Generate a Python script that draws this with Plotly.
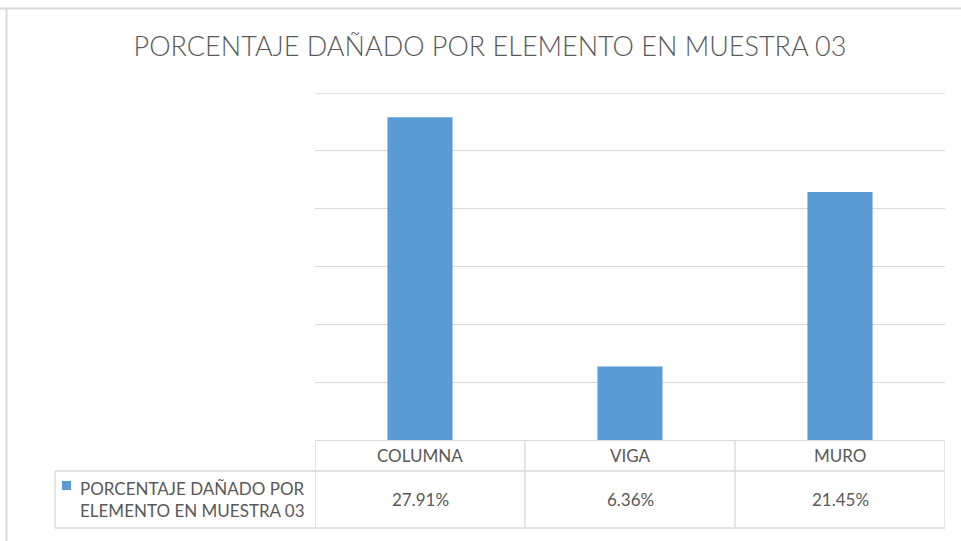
import plotly.graph_objects as go

categories = ["COLUMNA", "VIGA", "MURO"]
values = [27.91, 6.36, 21.45]
series_name = "PORCENTAJE DAÑADO POR ELEMENTO EN MUESTRA 03"
title_text = "PORCENTAJE DAÑADO POR ELEMENTO EN MUESTRA 03"

BAR = "#5B9BD5"
GRID = "#D9D9D9"
TXT = "#595959"
FONT = "Lato"

fig = go.Figure()
fig.add_trace(go.Bar(
    x=list(range(len(categories))), y=values, name=series_name,
    marker=dict(color=BAR, line=dict(width=0)), width=0.31,
    showlegend=False, hoverinfo="skip",
))

H = 347.0  # plot height px
W = 630.0  # plot width px
def py(pix):  # pixel y -> paper y
    return (440 - pix) / H
def px(pix):  # pixel x -> paper x
    return (pix - 315) / W

shapes = []
line = dict(color=GRID, width=1.3)
# outer frame (top and left)
shapes.append(dict(type="line", xref="paper", yref="paper", x0=px(0), x1=px(961), y0=py(8.5), y1=py(8.5), line=dict(color=GRID, width=2)))
shapes.append(dict(type="line", xref="paper", yref="paper", x0=px(6.5), x1=px(6.5), y0=py(8.5), y1=py(541), line=dict(color=GRID, width=2)))
# top gridline
shapes.append(dict(type="line", xref="paper", yref="y", x0=0, x1=1, y0=30, y1=30, line=line, layer="below"))
# data table
n = len(categories)
for b in [i - 0.5 for i in range(n + 1)]:
    shapes.append(dict(type="line", xref="x", yref="paper", x0=b, x1=b, y0=0, y1=py(528), line=line))
shapes.append(dict(type="line", xref="paper", yref="paper", x0=px(55), x1=px(55), y0=py(471), y1=py(528), line=line))
for yy in [471, 528]:
    shapes.append(dict(type="line", xref="paper", yref="paper", x0=px(55), x1=1, y0=py(yy), y1=py(yy), line=line))
# legend key
shapes.append(dict(type="rect", xref="paper", yref="paper", x0=px(62), x1=px(71), y0=py(481), y1=py(490), fillcolor=BAR, line=dict(width=0)))

annotations = []
for i, (c, v) in enumerate(zip(categories, values)):
    annotations.append(dict(x=i, xref="x", y=py(455.5), yref="paper", text=c, showarrow=False,
                            font=dict(family=FONT, size=17, color=TXT), xanchor="center", yanchor="middle"))
    annotations.append(dict(x=i, xref="x", y=py(499.5), yref="paper", text=f"{v:.2f}%", showarrow=False,
                            font=dict(family=FONT, size=17, color=TXT), xanchor="center", yanchor="middle"))
annotations.append(dict(x=px(78), xref="paper", y=py(499.5), yref="paper",
                        text="PORCENTAJE DAÑADO POR<br>ELEMENTO EN MUESTRA 03", showarrow=False, align="left",
                        font=dict(family=FONT, size=17, color=TXT), xanchor="left", yanchor="middle"))

fig.update_layout(
    width=961, height=541,
    margin=dict(l=315, r=16, t=93, b=101),
    paper_bgcolor="white", plot_bgcolor="white",
    title=dict(text=title_text, x=490 / 961, xanchor="center", y=1 - 47 / 541, yanchor="middle",
               font=dict(family=FONT, size=27, color=TXT, weight=300)),
    xaxis=dict(range=[-0.5, n - 0.5], showticklabels=False, showgrid=False, zeroline=False,
               showline=False, ticks=""),
    yaxis=dict(range=[0, 30], dtick=5, showticklabels=False, showgrid=True, gridcolor=GRID,
               gridwidth=1.3, zeroline=True, zerolinecolor=GRID, zerolinewidth=1.3, showline=False, ticks=""),
    shapes=shapes, annotations=annotations,
)

fig.write_html("out.html", config={"displayModeBar": False},
               post_script="document.body.style.margin='0';document.body.style.padding='0';")
